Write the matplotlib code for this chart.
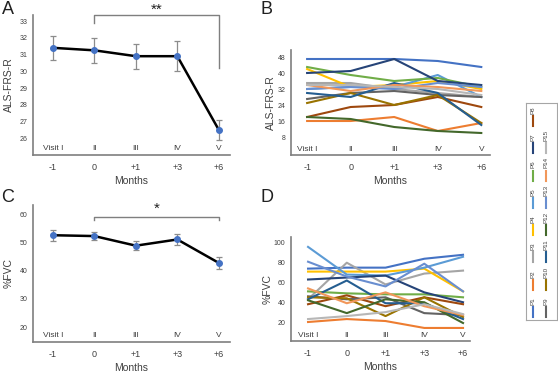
import matplotlib
matplotlib.use("Agg")
import matplotlib.pyplot as plt
import matplotlib.transforms as mtransforms

plt.rcParams['font.family'] = ['Liberation Sans', 'DejaVu Sans']

# data
months = ['-1', '0', '+1', '+3', '+6']
visits = ['Visit I', 'II', 'III', 'IV', 'V']

alsfrs_mean = [31.4, 31.25, 30.9, 30.9, 26.5]
alsfrs_err = [0.7, 0.75, 0.75, 0.9, 0.6]
fvc_mean = [52.5, 52.2, 48.8, 51.0, 42.7]
fvc_err = [2.0, 1.5, 1.5, 1.8, 2.0]

patients = ['P1', 'P2', 'P3', 'P4', 'P5', 'P6', 'P7', 'P8',
            'P9', 'P10', 'P11', 'P12', 'P13', 'P14', 'P15']
pcolors = ['#4472C4', '#ED7D31', '#A5A5A5', '#FFC000', '#5B9BD5', '#70AD47',
           '#264478', '#9E480E', '#636363', '#997300', '#255E91', '#43682B',
           '#698ED0', '#F1975A', '#B7B7B7']

alsfrs_pat = [
    [47, 47, 47, 46, 43],
    [16, 16, 18, 11, 15],
    [35, 35, 32, 30, 28],
    [42, 33, 34, 36, 32],
    [32, 33, 33, 39, 28],
    [43, 39, 36, 37.5, 33],
    [40, 41, 47, 36, 34],
    [18, 23, 24, 28, 23],
    [27, 30, 31, 29, 28],
    [25, 30, 24, 29, 15],
    [30, 28, 35, 30, 14],
    [18, 17, 13, 11, 10],
    [32, 33, 32, 35, 33],
    [34, 31, 34, 33, 31],
    [34, 34, 33, 32, 29],
]

fvc_pat = [
    [74, 75, 75, 84, 88],
    [20, 23, 21, 14, 14],
    [43, 80, 58, 69, 72],
    [71, 71, 71, 74, 51],
    [96, 68, 67, 75, 86],
    [51, 49, 48, 48, 45],
    [63, 65, 67, 50, 40],
    [38, 47, 36, 45, 38],
    [46, 43, 45, 29, 27],
    [45, 44, 26, 45, 25],
    [43, 62, 39, 39, 23],
    [42, 29, 43, 40, 19],
    [81, 66, 56, 79, 51],
    [54, 39, 50, 36, 27],
    [23, 26, 30, 38, 28],
]

spine_c = '#7f7f7f'
text_c = '#404040'

fig = plt.figure(figsize=(5.58, 3.73), dpi=100)
W, H = 558.0, 373.0


def px_axes(l, t, r, b):
    return fig.add_axes([l / W, 1 - b / H, (r - l) / W, (b - t) / H])


def style(ax, ylab, yticks, ylim, xlim, ylpad):
    x = range(len(months))
    ax.set_xlim(*xlim)
    ax.set_ylim(*ylim)
    ax.set_xticks(list(x))
    ax.set_xticklabels(months, fontsize=6.5, color=text_c)
    ax.set_yticks(yticks)
    ax.set_yticklabels([str(v) for v in yticks], fontsize=5, color=text_c)
    ax.tick_params(axis='x', length=0, pad=6)
    ax.tick_params(axis='y', length=0, pad=4)
    for s in ['top', 'right']:
        ax.spines[s].set_visible(False)
    for s in ['left', 'bottom']:
        ax.spines[s].set_color(spine_c)
        ax.spines[s].set_linewidth(1.2)
    ax.set_xlabel('Months', fontsize=7.5, color='#404040', labelpad=2.5)
    ax.set_ylabel(ylab, fontsize=7.5, color='#404040', labelpad=ylpad)
    trans = mtransforms.blended_transform_factory(ax.transData, ax.transAxes)
    for i, v in enumerate(visits):
        ax.text(i, 0.05, v, transform=trans, fontsize=6, color=text_c,
                ha='center', va='center')


# A
axA = px_axes(33, 15, 230, 155)
style(axA, 'ALS-FRS-R', list(range(26, 34)), (25, 33.36), (-0.48, 4.27), 4)
axA.errorbar(range(5), alsfrs_mean, yerr=alsfrs_err, color='black', lw=1.8,
             marker='o', ms=4, mfc='#4472C4', mec='#4472C4',
             ecolor='#8c8c8c', elinewidth=0.9, capsize=2.5, capthick=0.9, zorder=3)
axA.plot([1, 1, 4, 4], [32.9, 33.36, 33.36, 30.2], color=spine_c, lw=1, clip_on=False)
axA.text(2.5, 33.7, '**', fontsize=11, ha='center', va='center', color='#202020')

# C
axC = px_axes(33, 205, 230, 342)
style(axC, '%FVC', [20, 30, 40, 50, 60], (14.7, 63.2), (-0.48, 4.27), 4)
axC.errorbar(range(5), fvc_mean, yerr=fvc_err, color='black', lw=1.8,
             marker='o', ms=4, mfc='#4472C4', mec='#4472C4',
             ecolor='#8c8c8c', elinewidth=0.9, capsize=2.5, capthick=0.9, zorder=3)
axC.plot([1, 1, 4, 4], [57.9, 58.9, 58.9, 57.9], color=spine_c, lw=1, clip_on=False)
axC.text(2.5, 62.0, '*', fontsize=11, ha='center', va='center', color='#202020')

# B
axB = px_axes(291, 50, 490, 155)
style(axB, 'ALS-FRS-R', [8, 16, 24, 32, 40, 48], (-1, 51.5), (-0.37, 4.2), 1)
for vals, c in zip(alsfrs_pat, pcolors):
    axB.plot(range(5), vals, color=c, lw=1.5)

# D
axD = px_axes(291, 237, 470, 341)
style(axD, '%FVC', [20, 40, 60, 80, 100], (0.8, 106), (-0.44, 4.18), 1)
for vals, c in zip(fvc_pat, pcolors):
    axD.plot(range(5), vals, color=c, lw=1.5)

# panel letters
for lab, x, y in [('A', 8, 9), ('B', 267, 9), ('C', 8, 197), ('D', 267, 197)]:
    fig.text(x / W, 1 - y / H, lab, fontsize=13, ha='center', va='center', color='#202020')

# rotated legend
axL = px_axes(526, 103, 557, 320)
axL.set_xlim(526, 557)
axL.set_ylim(320, 103)
axL.set_xticks([])
axL.set_yticks([])
for s in axL.spines.values():
    s.set_color('#a6a6a6')
    s.set_linewidth(0.8)
for i, (p, c) in enumerate(zip(patients, pcolors)):
    col, row = (0, i) if i < 8 else (1, i - 8)
    x = 533 if col == 0 else 546
    yc = 312 - 27.3 * row
    axL.plot([x, x], [yc - 5, yc + 5], color=c, lw=1.5)
    axL.text(x, yc - 7, p, rotation=90, fontsize=4.5, color=text_c,
             ha='center', va='bottom')

fig.savefig('out.png', dpi=100)
